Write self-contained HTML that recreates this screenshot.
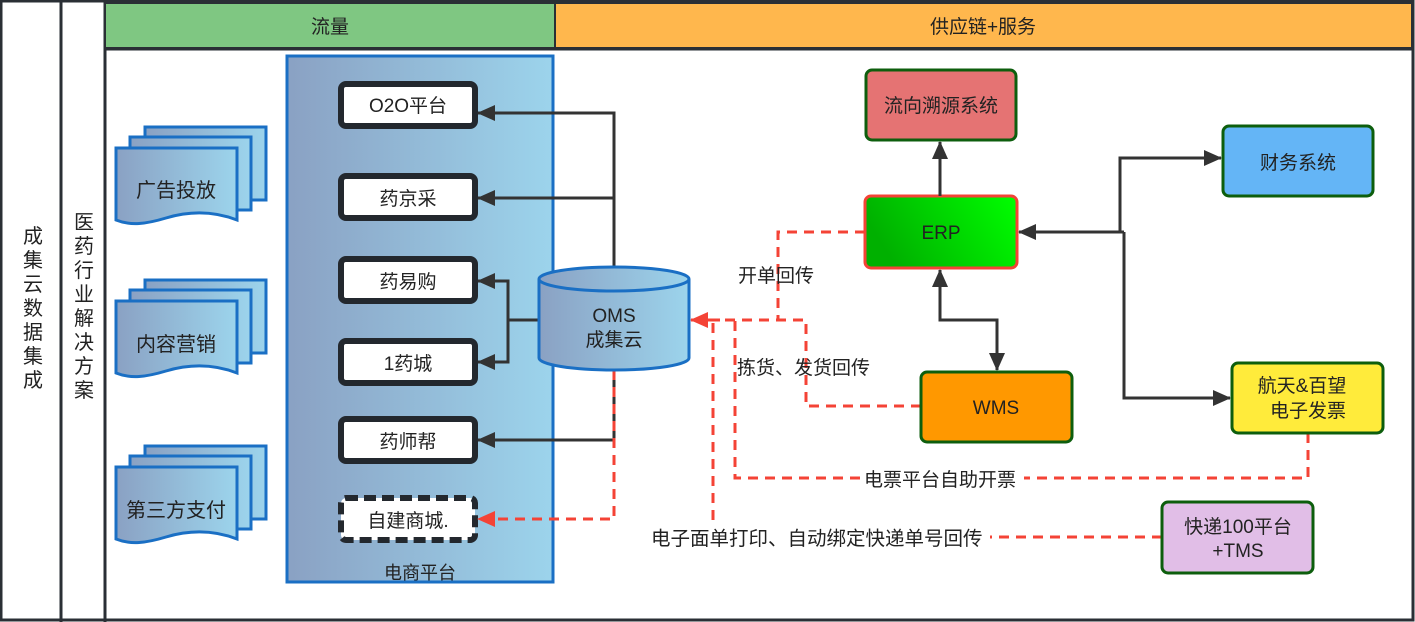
<!DOCTYPE html>
<html><head><meta charset="utf-8"><style>
html,body{margin:0;padding:0;background:#fff;}
svg{display:block;}
text{font-family:"Liberation Sans","Noto Sans CJK SC",sans-serif;fill:#222;}
</style></head><body>
<svg width="1415" height="622" viewBox="0 0 1415 622" xmlns="http://www.w3.org/2000/svg">
<defs>
<linearGradient id="bl" x1="0" x2="1" y1="0" y2="0"><stop offset="0" stop-color="#8aa1c3"/><stop offset="1" stop-color="#9cd4ec"/></linearGradient>
<linearGradient id="gr" x1="0" x2="1" y1="0.3" y2="0"><stop offset="0" stop-color="#00b000"/><stop offset="1" stop-color="#00ff00"/></linearGradient>
<marker id="abig" markerWidth="18" markerHeight="16" refX="17" refY="8" orient="auto" markerUnits="userSpaceOnUse" viewBox="0 0 18 16"><path d="M0,0 L18,8 L0,16 z" fill="#333"/></marker>
<marker id="ar" markerWidth="18" markerHeight="16" refX="17" refY="8" orient="auto" markerUnits="userSpaceOnUse" viewBox="0 0 18 16"><path d="M0,0 L18,8 L0,16 z" fill="#f44336"/></marker>
<g id="doc">
<rect x="29" y="-21" width="121" height="73" fill="url(#bl)" stroke="#1a6fc4" stroke-width="3"/>
<rect x="14" y="-11" width="121" height="73" fill="url(#bl)" stroke="#1a6fc4" stroke-width="3"/>
<path d="M0,0 H121 V72 C95,62 70,64 50,70 C30,76 15,78 0,72 Z" fill="url(#bl)" stroke="#1a6fc4" stroke-width="3"/>
</g>
</defs>
<rect x="1" y="1" width="1412" height="619" fill="none" stroke="#2a2f35" stroke-width="3"/>
<line x1="61" y1="0" x2="61" y2="622" stroke="#2a2f35" stroke-width="3"/>
<line x1="105" y1="0" x2="105" y2="622" stroke="#2a2f35" stroke-width="3"/>
<rect x="105" y="3" width="450" height="45" fill="#7fc782" stroke="#2a2f35" stroke-width="2"/>
<rect x="555" y="3" width="857" height="45" fill="#ffb74d" stroke="#2a2f35" stroke-width="2"/>
<line x1="105" y1="49" x2="1413" y2="49" stroke="#2a2f35" stroke-width="3"/>
<text x="330" y="33" font-size="19" text-anchor="middle">流量</text>
<text x="983" y="33" font-size="19" text-anchor="middle">供应链+服务</text>
<g font-size="20" text-anchor="middle">
<text x="33" y="243">成</text><text x="33" y="267">集</text><text x="33" y="291">云</text><text x="33" y="315">数</text><text x="33" y="339">据</text><text x="33" y="363">集</text><text x="33" y="387">成</text>
<text x="84" y="229">医</text><text x="84" y="253">药</text><text x="84" y="277">行</text><text x="84" y="301">业</text><text x="84" y="325">解</text><text x="84" y="349">决</text><text x="84" y="373">方</text><text x="84" y="397">案</text>
</g>
<use href="#doc" x="116" y="148"/>
<use href="#doc" x="116" y="301"/>
<use href="#doc" x="116" y="467"/>
<g font-size="20" text-anchor="middle">
<text x="176" y="197">广告投放</text>
<text x="176" y="351">内容营销</text>
<text x="176" y="517">第三方支付</text>
</g>
<rect x="287" y="56" width="266" height="526" fill="url(#bl)" stroke="#1a6fc4" stroke-width="3"/>
<text x="420" y="579" font-size="18" text-anchor="middle">电商平台</text>
<g fill="#fff" stroke="#23282e" stroke-width="6">
<rect x="341" y="84" width="134" height="42" rx="5"/>
<rect x="341" y="176" width="134" height="42" rx="5"/>
<rect x="341" y="259" width="134" height="42" rx="5"/>
<rect x="341" y="341" width="134" height="42" rx="5"/>
<rect x="341" y="419" width="134" height="42" rx="5"/>
<rect x="341" y="498" width="134" height="42" rx="5" stroke-dasharray="12 6"/>
</g>
<g font-size="19" text-anchor="middle">
<text x="408" y="112">O2O平台</text>
<text x="408" y="205">药京采</text>
<text x="408" y="288">药易购</text>
<text x="408" y="370">1药城</text>
<text x="408" y="448">药师帮</text>
<text x="408" y="527">自建商城.</text>
</g>
<g fill="none" stroke="#333" stroke-width="3">
<path d="M614,270 V113 H478" marker-end="url(#abig)"/>
<path d="M614,198 H478" marker-end="url(#abig)"/>
<path d="M539,320 H508 V281 H478" marker-end="url(#abig)"/>
<path d="M508,320 V362 H478" marker-end="url(#abig)"/>
<path d="M614,370 V440 H478" marker-end="url(#abig)"/>
</g>
<path d="M614,370 V519 H478" fill="none" stroke="#f44336" stroke-width="3" stroke-dasharray="10 7" marker-end="url(#ar)"/>
<path d="M539,279 V358 A75,12 0 0 0 689,358 V279" fill="url(#bl)" stroke="#1a6fc4" stroke-width="3"/>
<ellipse cx="614" cy="279" rx="75" ry="12" fill="url(#bl)" stroke="#1a6fc4" stroke-width="3"/>
<text x="614" y="322" font-size="19" text-anchor="middle">OMS</text>
<text x="614" y="346" font-size="19" text-anchor="middle">成集云</text>
<g fill="none" stroke="#f44336" stroke-width="3" stroke-dasharray="10 7">
<path d="M865,232 H778 V320"/>
<path d="M921,406 H806 V320 H708"/>
<path d="M1308,433 V478 H735 V320"/>
<path d="M1162,537 H990"/>
<path d="M713,520 V320"/>
</g>
<path d="M720,320 H691" stroke="#f44336" stroke-width="3" marker-end="url(#ar)"/>
<g font-size="19">
<text x="738" y="282">开单回传</text>
<text x="737" y="374">拣货、发货回传</text>
<rect x="862" y="466" width="162" height="24" fill="#fff"/>
<text x="864" y="486">电票平台自助开票</text>
<text x="651" y="545" font-size="19.5">电子面单打印、自动绑定快递单号回传</text>
</g>
<rect x="866" y="70" width="150" height="70" rx="6" fill="#e57373" stroke="#0d5e0d" stroke-width="3"/>
<rect x="865" y="196" width="152" height="72" rx="6" fill="url(#gr)" stroke="#f44336" stroke-width="3"/>
<rect x="1223" y="126" width="150" height="70" rx="6" fill="#64b5f6" stroke="#0d5e0d" stroke-width="3"/>
<rect x="921" y="372" width="151" height="70" rx="6" fill="#ff9800" stroke="#0d5e0d" stroke-width="3"/>
<rect x="1232" y="363" width="151" height="70" rx="6" fill="#ffeb3b" stroke="#0d5e0d" stroke-width="3"/>
<rect x="1162" y="502" width="151" height="71" rx="6" fill="#e1bee7" stroke="#0d5e0d" stroke-width="3"/>
<g font-size="19" text-anchor="middle">
<text x="941" y="112">流向溯源系统</text>
<text x="941" y="239">ERP</text>
<text x="1298" y="169">财务系统</text>
<text x="996" y="414">WMS</text>
<text x="1302" y="392">航天&amp;百望</text>
<text x="1308" y="417">电子发票</text>
<text x="1238" y="533">快递100平台</text>
<text x="1238" y="557">+TMS</text>
</g>
<g fill="none" stroke="#333" stroke-width="3">
<path d="M940,196 V142" marker-end="url(#abig)"/>
<path d="M1124,232 H1019" marker-end="url(#abig)"/>
<path d="M1120,232 V158 H1221" marker-end="url(#abig)"/>
<path d="M1124,232 V398 H1230" marker-end="url(#abig)"/>
<path d="M940,300 V270" marker-end="url(#abig)"/>
<path d="M940,290 V320 H997 V370" marker-end="url(#abig)"/>
</g>
</svg>
</body></html>
